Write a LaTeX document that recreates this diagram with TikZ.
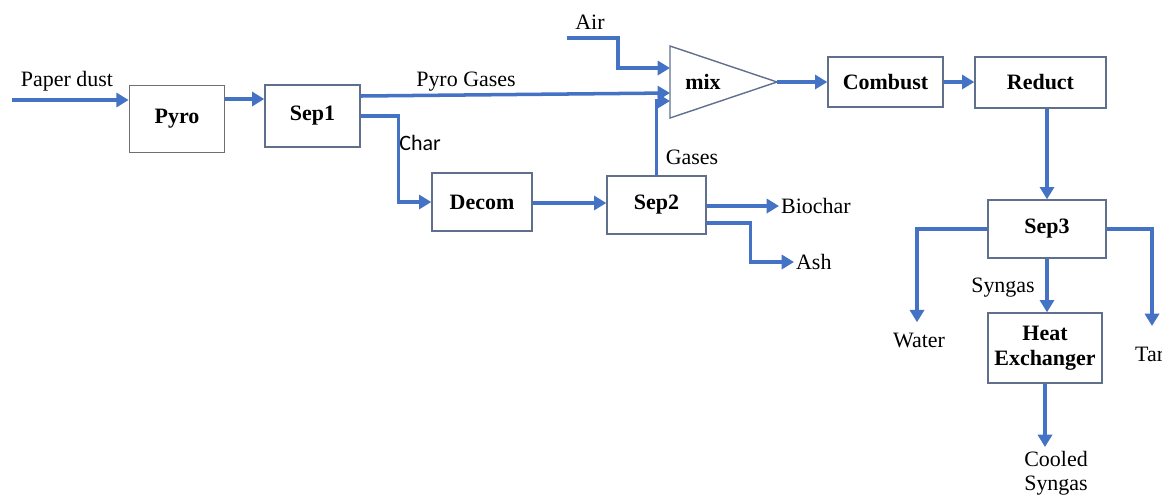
\documentclass[tikz,border=0pt]{standalone}
\usepackage{fontspec}
\setmainfont{Liberation Serif}
\newfontfamily\charfont{Carlito}
\usetikzlibrary{arrows.meta}

\definecolor{flowblue}{RGB}{68,114,196}
\definecolor{boxedge}{RGB}{96,112,140}
\definecolor{pyroedge}{RGB}{112,112,112}

\tikzset{
	unit/.style={draw=boxedge, line width=0.8pt, fill=white, align=center, inner sep=0pt,
		font=\bfseries\fontsize{12.5}{14}\selectfont},
	flow/.style={draw=flowblue, line width=2pt, ->, >={Triangle[length=7pt,width=8pt]}},
	lbl/.style={font=\fontsize{12.5}{14}\selectfont, inner sep=1pt, align=center},
}

\begin{document}
\begin{tikzpicture}[x=0.02cm, y=0.02cm]
	\useasboundingbox (0,0) rectangle (1162,-495);

	% units
	\node[unit, draw=pyroedge, line width=1pt, minimum width=1.9cm, minimum height=1.34cm] (pyro) at (177,-119) {Pyro};
	\node[unit, minimum width=1.9cm, minimum height=1.24cm] (sep1) at (312.5,-116) {Sep1};
	\node[unit, minimum width=2.0cm, minimum height=1.16cm] (decom) at (482,-202) {Decom};
	\node[unit, minimum width=1.98cm, minimum height=1.16cm] (sep2) at (656.5,-205) {Sep2};
	\node[unit, minimum width=2.3cm, minimum height=1.0cm] (combust) at (885.5,-82) {Combust};
	\node[unit, minimum width=2.62cm, minimum height=1.02cm] (reduct) at (1040.5,-82.5) {Reduct};
	\node[unit, minimum width=2.36cm, minimum height=1.16cm] (sep3) at (1047,-229) {Sep3};
	\node[unit, minimum width=2.28cm, minimum height=1.4cm] (hx) at (1045,-348) {Heat\\Exchanger};

	% mixer
	\draw[boxedge, line width=0.8pt] (670,-46) -- (777,-82) -- (670,-118) -- cycle;
	\node[font=\bfseries\fontsize{12.5}{14}\selectfont] (mix) at (703,-82) {mix};
	\coordinate (mixair) at (670,-68);
	\coordinate (mixpyro) at (670,-93);
	\coordinate (mixgas) at (670,-101);
	\coordinate (mixout) at (777,-82);

	% stream labels
	\node[lbl] (paper) at (67,-81) {Paper dust};
	\node[lbl] (pyrogases) at (466,-82) {Pyro Gases};
	\node[lbl, font=\charfont\fontsize{12.5}{14}\selectfont] (char) at (420,-143) {Char};
	\node[lbl] (gases) at (692,-157) {Gases};
	\node[lbl] (airlbl) at (590,-22) {Air};
	\node[lbl, anchor=west] (biochar) at (779,-206) {Biochar};
	\node[lbl, anchor=west] (ash) at (794,-262) {Ash};
	\node[lbl] (syngas) at (1003,-288) {Syngas};
	\node[lbl, anchor=north] (water) at (919,-331) {Water};
	\node[lbl, anchor=north west] (tar) at (1133,-345) {Tar};
	\node[lbl, anchor=north] (cooled) at (1056,-449) {Cooled\\Syngas};

	% feed and air
	\coordinate (feed) at (12,-100);
	\coordinate (air) at (567,-38);

	% streams
	\draw[flow] (feed) -- (feed -| pyro.west);
	\draw[flow] (pyro.east |- 0,-99) -- (sep1.west |- 0,-99);
	\draw[flow] (sep1.east |- 0,-96) -- (mixpyro);
	\draw[flow] (sep1.east) -- ++(38,0) |- (decom.west);
	\draw[flow] (decom.east |- 0,-203) -- (sep2.west |- 0,-203);
	\draw[flow] (sep2.north) |- (mixgas);
	\draw[flow] (air) -- ++(51,0) |- (mixair);
	\draw[flow] (mixout) -- (combust.west);
	\draw[flow] (combust.east) -- (reduct.west |- combust.east);
	\draw[flow] (sep2.east |- biochar.west) -- (biochar.west);
	\draw[flow] (sep2.east |- 0,-223) -- ++(44,0) |- (ash.west);
	\draw[flow] (sep3.north |- reduct.south) -- (sep3.north);
	\draw[flow] (sep3.west) -| ([yshift=5pt]water.north -| 917,0);
	\draw[flow] (sep3.east) -| (1152,-326);
	\draw[flow] (sep3.south) -- (sep3.south |- hx.north);
	\draw[flow] (hx.south) -- (hx.south |- 0,-447);
\end{tikzpicture}
\end{document}
